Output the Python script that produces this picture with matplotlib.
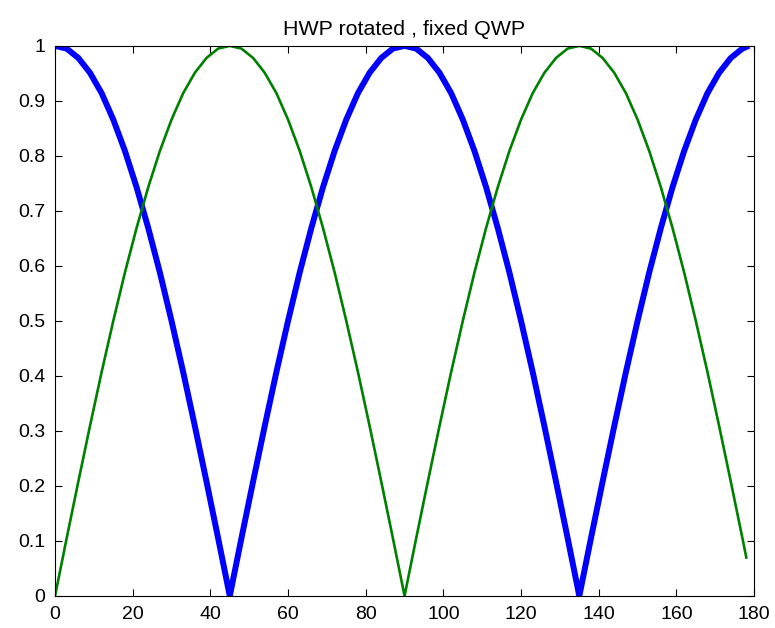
import matplotlib.pyplot as plt

# angle of the HWP (deg)
angle = [0, 3, 6, 9, 12, 15, 18, 21, 24, 27, 30, 33, 36, 39, 42,
         45, 48, 51, 54, 57, 60, 63, 66, 69, 72, 75, 78, 81, 84, 87,
         90, 93, 96, 99, 102, 105, 108, 111, 114, 117, 120, 123, 126, 129, 132,
         135, 138, 141, 144, 147, 150, 153, 156, 159, 162, 165, 168, 171, 174, 177,
         178]

# blue curve (thick)
blue_vals = [1.000, 0.995, 0.978, 0.951, 0.914, 0.866, 0.809, 0.743, 0.669, 0.588, 0.500, 0.407, 0.309, 0.208, 0.105,
             0.000, 0.105, 0.208, 0.309, 0.407, 0.500, 0.588, 0.669, 0.743, 0.809, 0.866, 0.914, 0.951, 0.978, 0.995,
             1.000, 0.995, 0.978, 0.951, 0.914, 0.866, 0.809, 0.743, 0.669, 0.588, 0.500, 0.407, 0.309, 0.208, 0.105,
             0.000, 0.105, 0.208, 0.309, 0.407, 0.500, 0.588, 0.669, 0.743, 0.809, 0.866, 0.914, 0.951, 0.978, 0.995,
             0.998]

# green curve (thin)
green_vals = [0.000, 0.105, 0.208, 0.309, 0.407, 0.500, 0.588, 0.669, 0.743, 0.809, 0.866, 0.914, 0.951, 0.978, 0.995,
              1.000, 0.995, 0.978, 0.951, 0.914, 0.866, 0.809, 0.743, 0.669, 0.588, 0.500, 0.407, 0.309, 0.208, 0.105,
              0.000, 0.105, 0.208, 0.309, 0.407, 0.500, 0.588, 0.669, 0.743, 0.809, 0.866, 0.914, 0.951, 0.978, 0.995,
              1.000, 0.995, 0.978, 0.951, 0.914, 0.866, 0.809, 0.743, 0.669, 0.588, 0.500, 0.407, 0.309, 0.208, 0.105,
              0.070]

xticks = [0, 20, 40, 60, 80, 100, 120, 140, 160, 180]
yticks = [0, 0.1, 0.2, 0.3, 0.4, 0.5, 0.6, 0.7, 0.8, 0.9, 1]
ytick_labels = ['0', '0.1', '0.2', '0.3', '0.4', '0.5', '0.6', '0.7', '0.8', '0.9', '1']

plt.rcParams['font.family'] = ['Liberation Sans', 'DejaVu Sans']

fig = plt.figure(figsize=(7.75, 6.28), dpi=100)
# axes box: left 55px, right 754px, top 46px, bottom 596px
ax = fig.add_axes([0.071, 0.051, 0.902, 0.876])

ax.plot(angle, blue_vals, color=(0, 0, 1), lw=4.3, solid_joinstyle='miter')
ax.plot(angle, green_vals, color=(0, 0.5, 0), lw=1.9)

ax.set_xlim(0, 180)
ax.set_ylim(0, 1)
ax.set_xticks(xticks)
ax.set_xticklabels([str(t) for t in xticks])
ax.set_yticks(yticks)
ax.set_yticklabels(ytick_labels)
ax.tick_params(direction='in', top=True, right=True, length=5, width=0.8,
               labelsize=14, pad=7)
for s in ax.spines.values():
    s.set_linewidth(0.8)

ax.set_title("HWP rotated , fixed QWP", fontsize=15.4, pad=8)

fig.savefig('out.png', dpi=100)
